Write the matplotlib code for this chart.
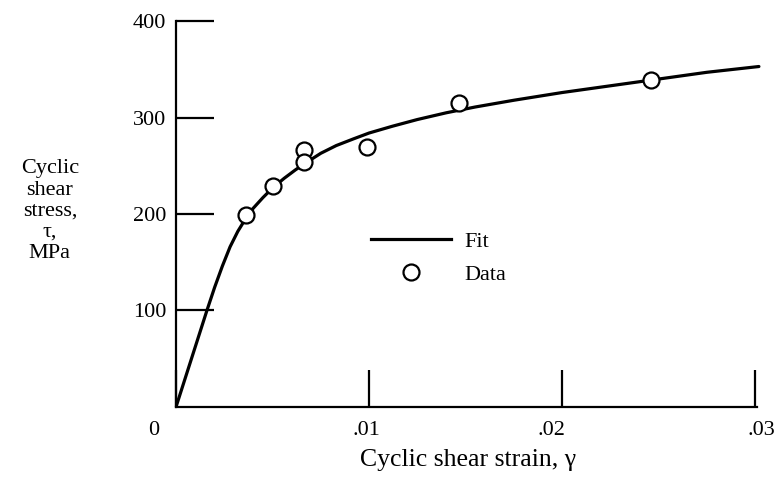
import numpy as np
import matplotlib
matplotlib.use('Agg')
import matplotlib.pyplot as plt
from matplotlib.lines import Line2D
from matplotlib.transforms import ScaledTranslation

plt.rcParams['font.family'] = ['Liberation Serif', 'DejaVu Serif']

# data
data_strain = np.array([0.00365, 0.0050, 0.00661, 0.00661, 0.0099, 0.01464, 0.0246])
data_stress = np.array([199, 229, 266, 254, 270, 315, 339])

fit_strain = np.array([0.0, 0.0008, 0.0016, 0.0020, 0.0024, 0.0028, 0.0032, 0.0036,
                       0.0040, 0.0045, 0.0050, 0.0056, 0.0062, 0.0068, 0.0075,
                       0.0083, 0.0092, 0.0100, 0.0112, 0.0125, 0.0140, 0.0155,
                       0.0175, 0.0200, 0.0225, 0.0250, 0.0275, 0.0302])
fit_stress = np.array([0, 50, 100, 124, 146, 166, 182, 195,
                       206, 217, 227, 237, 246, 254, 263,
                       271, 278, 284, 291, 298, 305, 311,
                       318, 326, 333, 340, 347, 353])

x_ticks = [0, 0.01, 0.02, 0.03]
x_labels = ['0', '.01', '.02', '.03']
y_ticks = [100, 200, 300, 400]
y_labels = ['100', '200', '300', '400']

fig = plt.figure(figsize=(7.79, 4.82), dpi=100)
ax = fig.add_axes([0.226, 0.156, 0.7507, 0.800])

ax.plot(fit_strain, fit_stress, color='black', lw=2.3, solid_capstyle='round', zorder=2)
ax.plot(data_strain, data_stress, 'o', ms=11.5, mfc='white', mec='black', mew=1.6, zorder=3)

ax.set_xlim(0, 0.0303)
ax.set_ylim(0, 400)
for s in ['top', 'right']:
    ax.spines[s].set_visible(False)
for s in ['left', 'bottom']:
    ax.spines[s].set_linewidth(1.6)
ax.spines['bottom'].set_bounds(0, 0.0301)

ax.set_xticks(x_ticks)
ax.set_xticklabels(x_labels)
ax.set_yticks(y_ticks)
ax.set_yticklabels(y_labels)
ax.tick_params(axis='both', direction='in', length=27, width=1.6, labelsize=16)
ax.tick_params(axis='x', pad=10)
ax.tick_params(axis='y', pad=7)

# nudge x tick labels like the original (pixels)
offsets = [-22, -3, -11, 6]
for lab, dx in zip(ax.get_xticklabels(), offsets):
    lab.set_transform(lab.get_transform() + ScaledTranslation(dx / 100, 0, fig.dpi_scale_trans))

ax.set_xlabel('Cyclic shear strain, \u03b3', fontsize=18.5, labelpad=7)
fig.text(0.064, 0.562, 'Cyclic\nshear\nstress,\n\u03c4,\nMPa', fontsize=16,
         ha='center', va='center', linespacing=1.15)

handles = [Line2D([], [], color='black', lw=2.3),
           Line2D([], [], ls='none', marker='o', ms=11.5, mfc='white', mec='black', mew=1.6)]
ax.legend(handles, ['Fit', 'Data'], loc='center left', bbox_to_anchor=(0.30, 0.385),
          frameon=False, fontsize=16, handlelength=3.6, handletextpad=0.6,
          labelspacing=0.55)

fig.savefig('out.png', dpi=100)
